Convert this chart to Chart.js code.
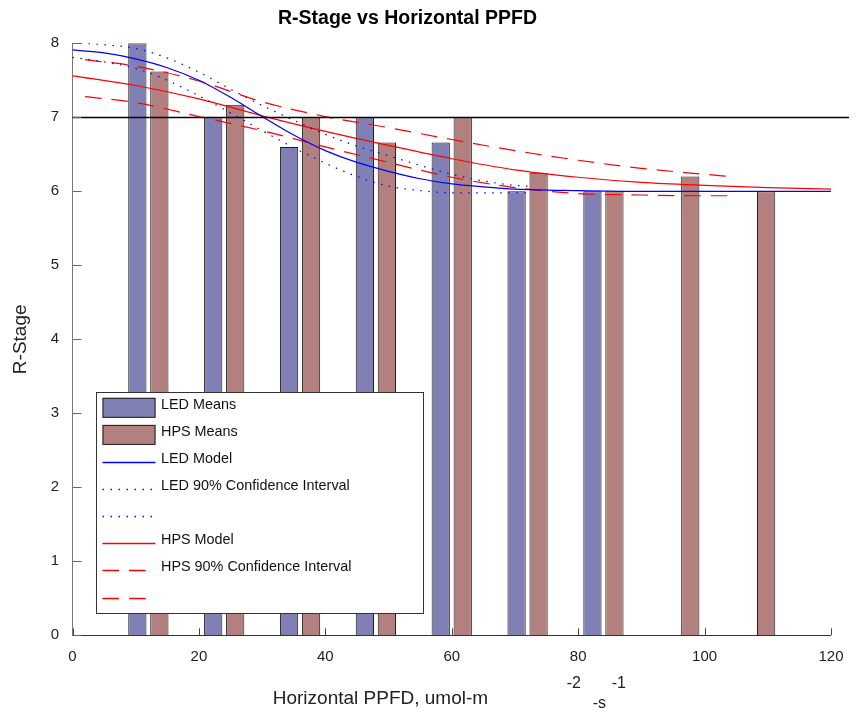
<!DOCTYPE html>
<html>
<head>
<meta charset="utf-8">
<script src="https://cdn.jsdelivr.net/npm/chart.js@4/dist/chart.umd.min.js"></script>
<style>
  html, body { margin: 0; padding: 0; background: #ffffff; }
  #c { display: block; }
</style>
</head>
<body>
<canvas id="c" width="856" height="711"></canvas>
<script>
// ---------------- data ----------------
const categories = [12, 24, 36, 48, 60, 72, 84, 96, 108];
const ledMeans = [8.0, 7.0, 6.6, 7.0, 6.66, 6.0, 6.0, 0, 0];
const hpsMeans = [7.62, 7.17, 7.0, 6.66, 7.0, 6.25, 6.0, 6.2, 6.0];

const ledModelX = [0, 5, 10, 15, 20, 25, 30, 35, 40, 45, 50, 55, 60, 65, 70, 80, 90, 100, 110, 120];
const ledModelY = [7.91, 7.87, 7.79, 7.67, 7.50, 7.27, 7.01, 6.76, 6.55, 6.39, 6.27, 6.17, 6.10, 6.06, 6.03, 6.01, 6.0, 6.0, 6.0, 6.0];

const ledCiUpperX = [0, 5, 10, 15, 20, 25, 30, 35, 40, 45, 50, 55, 60, 65, 70, 72];
const ledCiUpperY = [8.01, 7.98, 7.93, 7.80, 7.61, 7.38, 7.16, 6.96, 6.77, 6.61, 6.48, 6.35, 6.23, 6.14, 6.08, 6.07];
const ledCiLowerX = [0, 5, 10, 15, 20, 25, 30, 35, 40, 45, 50, 55, 60, 65, 70, 72];
const ledCiLowerY = [7.81, 7.75, 7.66, 7.50, 7.29, 7.06, 6.82, 6.59, 6.38, 6.20, 6.07, 6.01, 5.98, 5.98, 5.98, 5.98];

const hpsModelX = [0, 10, 20, 30, 40, 50, 60, 70, 80, 90, 100, 110, 120];
const hpsModelY = [7.56, 7.43, 7.25, 7.02, 6.81, 6.62, 6.44, 6.29, 6.19, 6.12, 6.08, 6.05, 6.03];

const hpsCiX = [2, 10, 20, 30, 40, 50, 60, 70, 80, 90, 100, 104];
const hpsCiUpperY = [7.78, 7.69, 7.49, 7.21, 7.01, 6.86, 6.70, 6.55, 6.42, 6.31, 6.23, 6.20];
const hpsCiLowerY = [7.28, 7.20, 7.01, 6.82, 6.60, 6.39, 6.19, 6.05, 5.97, 5.95, 5.94, 5.94];

const referenceLevel = 7;

const titleText = 'R-Stage vs Horizontal PPFD';
const xTitleMain = 'Horizontal PPFD, umol-m';
const xTitleSup1 = '-2';
const xTitleSub = '-s';
const xTitleSup2 = '-1';
const yTitleText = 'R-Stage';

// ---------------- helpers ----------------
const FAMILY = '"Liberation Sans", Arial, Helvetica, sans-serif';
Chart.defaults.font.family = FAMILY;
Chart.defaults.color = '#222';

const pts = (xs, ys) => xs.map((x, i) => ({ x: x, y: ys[i] }));

const lineDs = (label, xs, ys, color, dash) => ({
  type: 'line',
  label: label,
  data: pts(xs, ys),
  borderColor: color,
  borderWidth: 1.2,
  borderDash: dash || [],
  pointRadius: 0,
  fill: false,
  cubicInterpolationMode: 'monotone',
  order: 1
});

const DOT = [1.5, 6.5];
const DASH = [16.5, 10];

const datasets = [
  {
    type: 'bar', label: 'LED Means', data: pts(categories, ledMeans),
    backgroundColor: '#8080b4', borderColor: '#1e1e1e', borderWidth: 1, order: 2
  },
  {
    type: 'bar', label: 'HPS Means', data: pts(categories, hpsMeans),
    backgroundColor: '#b38080', borderColor: '#1e1e1e', borderWidth: 1, order: 2
  },
  lineDs('LED Model', ledModelX, ledModelY, '#0000ff'),
  lineDs('LED 90% Confidence Interval', ledCiUpperX, ledCiUpperY, '#0000ff', DOT),
  lineDs('', ledCiLowerX, ledCiLowerY, '#0000ff', DOT),
  lineDs('HPS Model', hpsModelX, hpsModelY, '#ff0000'),
  lineDs('HPS 90% Confidence Interval', hpsCiX, hpsCiUpperY, '#ff0000', DASH),
  lineDs('', hpsCiX, hpsCiLowerY, '#ff0000', DASH)
];

// ---------------- decorations plugin ----------------
const decor = {
  id: 'decor',
  afterDatasetsDraw(chart) {
    const { ctx, chartArea: a, scales } = chart;
    const ys = scales.y;
    ctx.save();
    const yr = Math.round(ys.getPixelForValue(referenceLevel)) + 0.5;
    ctx.strokeStyle = '#000';
    ctx.lineWidth = 1.3;
    ctx.setLineDash([]);
    ctx.beginPath();
    ctx.moveTo(a.left, yr);
    ctx.lineTo(a.right + 18, yr);
    ctx.stroke();
    ctx.restore();
  },
  afterDraw(chart) {
    const { ctx, chartArea: a, scales } = chart;
    const xs = scales.x, ys = scales.y;
    ctx.save();

    // inward tick marks
    ctx.setLineDash([]);
    ctx.lineWidth = 1;
    ctx.strokeStyle = '#666';
    ys.ticks.forEach(t => {
      const p = Math.round(ys.getPixelForValue(t.value)) + 0.5;
      ctx.beginPath(); ctx.moveTo(a.left, p); ctx.lineTo(a.left + 9, p); ctx.stroke();
    });
    ctx.strokeStyle = '#444';
    xs.ticks.forEach(t => {
      const p = Math.round(xs.getPixelForValue(t.value)) + 0.5;
      ctx.beginPath(); ctx.moveTo(p, a.bottom); ctx.lineTo(p, a.bottom - 7); ctx.stroke();
    });

    // legend
    const lx = a.left + 23.5, ly = 392, lw = 327, lh = 221;
    ctx.fillStyle = '#ffffff';
    ctx.fillRect(lx, ly, lw, lh);
    ctx.strokeStyle = '#333';
    ctx.lineWidth = 1;
    ctx.strokeRect(lx + 0.5, ly + 0.5, lw, lh);
    chart.data.datasets.forEach((ds, i) => {
      const cy = ly + 15.8 + i * 27.1;
      const x0 = lx + 6.5, x1 = lx + 59.5;
      ctx.save();
      if (ds.type === 'bar') {
        ctx.setLineDash([]);
        ctx.fillStyle = ds.backgroundColor;
        ctx.fillRect(x0, cy - 10, x1 - x0, 20);
        ctx.strokeStyle = ds.borderColor;
        ctx.lineWidth = 1;
        ctx.strokeRect(x0 + 0.5, cy - 10 + 0.5, x1 - x0 - 1, 19);
      } else {
        ctx.setLineDash(ds.borderDash || []);
        ctx.strokeStyle = ds.borderColor;
        ctx.lineWidth = 1.4;
        ctx.beginPath();
        ctx.moveTo(x0, Math.round(cy) + 0.5);
        ctx.lineTo(x1, Math.round(cy) + 0.5);
        ctx.stroke();
      }
      ctx.restore();
      if (ds.label) {
        ctx.save();
        ctx.setLineDash([]);
        ctx.fillStyle = '#111';
        ctx.font = '14.4px ' + FAMILY;
        ctx.textAlign = 'left';
        ctx.textBaseline = 'middle';
        ctx.fillText(ds.label, lx + 65, cy - 3);
        ctx.restore();
      }
    });

    // chart title
    ctx.fillStyle = '#000';
    ctx.font = 'bold 19.5px ' + FAMILY;
    ctx.textAlign = 'center';
    ctx.textBaseline = 'alphabetic';
    ctx.fillText(titleText, 407.5, 24);

    // x axis title (with exponent pieces)
    const cx = (a.left + a.right) / 2;
    ctx.fillStyle = '#222';
    ctx.textAlign = 'left';
    ctx.font = '19px ' + FAMILY;
    ctx.fillText(xTitleMain, cx - 179, 704);
    ctx.font = '16px ' + FAMILY;
    ctx.fillText(xTitleSup1, cx + 115, 688);
    ctx.fillText(xTitleSub, cx + 141, 708);
    ctx.fillText(xTitleSup2, cx + 160, 688);

    ctx.restore();
  }
};

// ---------------- chart ----------------
new Chart(document.getElementById('c'), {
  type: 'bar',
  data: { datasets: datasets },
  plugins: [decor],
  options: {
    responsive: false,
    animation: false,
    devicePixelRatio: 1,
    layout: { padding: { left: 0, right: 24.5, top: 43.3, bottom: 0 } },
    datasets: {
      bar: { categoryPercentage: 0.58, barPercentage: 0.83, grouped: true }
    },
    plugins: {
      legend: { display: false },
      title: { display: false },
      tooltip: { enabled: false }
    },
    scales: {
      x: {
        type: 'linear',
        min: 0, max: 120,
        offset: false,
        grid: { display: false, drawTicks: false },
        border: { display: true, color: '#333', width: 1 },
        ticks: { stepSize: 20, padding: 12.5, maxRotation: 0, font: { size: 15 }, color: '#222' },
        afterFit(s) { s.height = 75.7; }
      },
      y: {
        type: 'linear',
        min: 0, max: 8,
        grid: { display: false, drawTicks: false },
        border: { display: true, color: '#777', width: 1 },
        ticks: { stepSize: 1, padding: 13.5, font: { size: 15 }, color: '#222' },
        title: { display: true, text: yTitleText, font: { size: 19 }, color: '#222', padding: { top: 9, bottom: 0 } },
        afterFit(s) { s.width = 72.5; }
      }
    }
  }
});
</script>
</body>
</html>
